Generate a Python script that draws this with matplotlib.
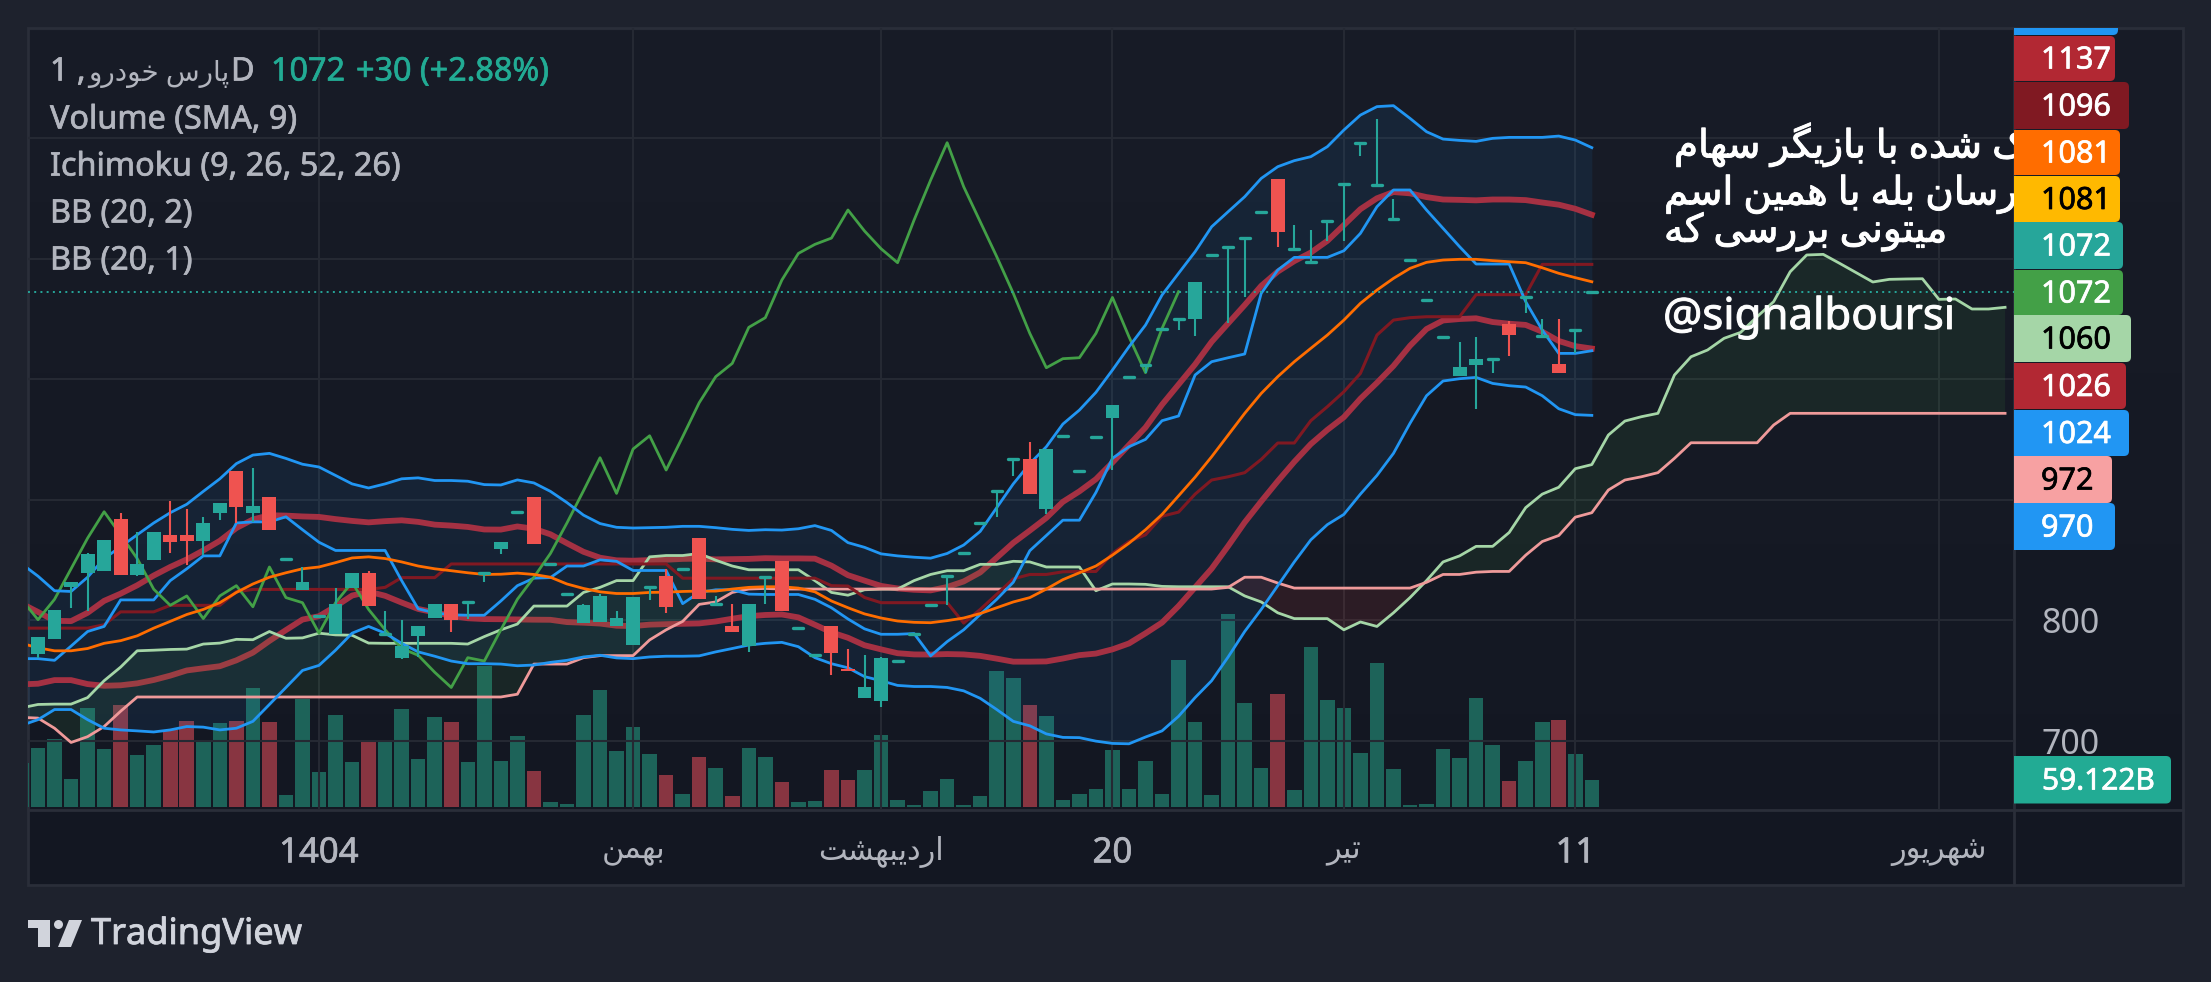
#!/usr/bin/env python3
"""TradingView style daily chart with Ichimoku and two Bollinger bands."""
import matplotlib
matplotlib.use('Agg')
import matplotlib.pyplot as plt
import matplotlib.patheffects as pe
import numpy as np
from matplotlib.patches import FancyBboxPatch, Polygon, Circle, Rectangle

# candles, bar 0 to 94
opens = [772, 785, 828, 839, 841, 884, 838, 850, 871, 871, 866, 889, 924, 889, 902, 851, 825, 804, 789, 827,
         839, 789, 769, 787, 802, 814, 815, 839, 859, 890, 902, 847, 822, 798, 799, 795, 780, 828, 837, 843,
         868, 814, 795, 779, 836, 849, 794, 771, 795, 760, 736, 733, 766, 789, 813, 837, 856, 881, 907, 934,
         934, 892, 953, 924, 952, 968, 1002, 1012, 1042, 1050, 1050, 1103, 1110, 1117, 1139, 1166, 1108, 1097, 1131, 1162,
         1196, 1161, 1133, 1099, 1066, 1035, 1003, 1012, 1017, 1046, 1068, 1036, 1013, 1041, 1072]
highs = [786, 809, 832, 856, 867, 889, 873, 873, 899, 892, 886, 897, 924, 926, 902, 851, 844, 804, 827, 839,
         841, 808, 800, 795, 814, 814, 815, 839, 865, 890, 902, 847, 822, 814, 822, 808, 819, 828, 843, 843,
         868, 820, 814, 814, 836, 849, 794, 771, 795, 776, 771, 770, 766, 789, 813, 837, 856, 881, 907, 934,
         948, 942, 953, 924, 952, 979, 1002, 1012, 1042, 1050, 1081, 1103, 1110, 1117, 1139, 1166, 1128, 1124, 1131, 1162,
         1196, 1216, 1149, 1099, 1066, 1035, 1031, 1035, 1017, 1048, 1068, 1050, 1050, 1041, 1072]
lows = [769, 785, 810, 808, 841, 838, 837, 850, 856, 846, 854, 883, 881, 882, 875, 851, 825, 804, 789, 827,
        812, 789, 768, 770, 802, 790, 801, 832, 855, 890, 863, 847, 822, 798, 799, 795, 780, 817, 806, 843,
        818, 814, 790, 774, 814, 808, 794, 771, 755, 758, 736, 728, 766, 789, 813, 813, 856, 881, 886, 920,
        905, 888, 953, 924, 952, 925, 1002, 1005, 1042, 1041, 1036, 1103, 1047, 1068, 1139, 1110, 1108, 1097, 1115, 1115,
        1185, 1161, 1133, 1099, 1066, 1035, 1003, 975, 1005, 1019, 1055, 1036, 1005, 1022, 1072]
closes = [786, 809, 832, 855, 867, 838, 847, 873, 865, 866, 881, 897, 894, 895, 875, 851, 832, 804, 814, 839,
          812, 789, 779, 795, 814, 800, 815, 839, 865, 890, 863, 847, 822, 813, 820, 802, 819, 828, 811, 843,
          818, 814, 790, 814, 836, 808, 794, 771, 773, 758, 745, 769, 766, 789, 813, 837, 856, 881, 907, 934,
          905, 942, 953, 924, 952, 979, 1002, 1012, 1042, 1050, 1081, 1103, 1110, 1117, 1139, 1122, 1108, 1097, 1131, 1162,
          1196, 1161, 1133, 1099, 1066, 1035, 1010, 1017, 1017, 1037, 1068, 1036, 1005, 1041, 1072]

# volume in billions, bar -1 to 94
volumes = [97, 130, 150, 61, 219, 128, 225, 115, 137, 169, 189, 143, 185, 189, 263, 187, 26, 238, 77, 203,
           99, 147, 147, 216, 106, 198, 187, 99, 312, 101, 156, 79, 11, 7, 203, 258, 124, 177, 117, 70,
           28, 110, 86, 24, 130, 110, 55, 11, 13, 82, 59, 82, 159, 15, 4, 35, 61, 4, 24, 300,
           284, 225, 201, 15, 28, 40, 126, 40, 101, 28, 324, 187, 26, 426, 229, 86, 249, 37, 353, 236,
           219, 119, 317, 84, 4, 7, 128, 108, 240, 137, 57, 101, 187, 192, 117, 59.122]

# Bollinger 20,2 bar -1 to 94
bb2_upper = [847, 836.7, 824.6, 824, 835.8, 851.3, 861.1, 871, 880.8, 889.3, 896.3, 907, 917.4, 930, 937.1, 938.5,
             934.3, 929.5, 927.2, 920.2, 913.2, 909.8, 913.2, 917.4, 918.2, 916, 916, 915.4, 912.6, 912.3, 916.5, 914,
             907, 897.7, 887.3, 880.3, 877.2, 876.6, 876.9, 877.2, 878, 878, 876.9, 875.5, 874.6, 875.2, 874.9, 876,
             878.6, 874.6, 864.5, 860.6, 855.2, 853.5, 852.4, 851.6, 855.5, 862.5, 873.8, 893.5, 913.2, 930, 944, 962.8,
             974.4, 989.1, 1007.6, 1026.9, 1044.9, 1069.8, 1087.8, 1105.7, 1126.4, 1138.9, 1151.3, 1166.5, 1176.2, 1181.2, 1184.5, 1192.8,
             1206.6, 1219, 1226, 1226.8, 1216.3, 1205.2, 1199.1, 1198, 1197.2, 1199.7, 1200.5, 1200.5, 1200.5, 1201.6, 1198.3, 1192]
bb2_basis = [781, 777.3, 774.8, 774.8, 776.7, 781, 783.2, 787.2, 793.6, 799.2, 804.9, 809.1, 814.7, 823.2, 830.2, 835.8,
             839.5, 842.8, 844.3, 847.9, 851.8, 852.7, 851.3, 848.5, 845.1, 842.8, 841.2, 839.5, 838.1, 838.3, 839.2, 838.1,
             835.8, 830.2, 826.5, 823.7, 822.3, 822.3, 823.2, 823.4, 824, 824.3, 824.3, 826, 827.4, 827.9, 827.9, 826.8,
             823.7, 816.1, 810.5, 805.4, 802, 799.5, 798.4, 798.1, 799.8, 802, 805.7, 810.5, 815.3, 818.9, 826, 833.8,
             839.5, 845.1, 854.1, 864, 875.2, 887.9, 903.3, 918.8, 935.7, 953.7, 971.7, 988.2, 1002.1, 1014.5, 1025.6, 1036.6,
             1049, 1062.9, 1073.9, 1083.6, 1091.9, 1096.9, 1098.8, 1099.4, 1099.4, 1098.3, 1097.4, 1096.6, 1092.4, 1087.8, 1084.2, 1080.8]
bb2_lower = [713, 717.7, 726.1, 726.1, 717.7, 710.6, 709.2, 708.4, 707.5, 709.2, 712, 711.5, 709.2, 710.6, 716.3, 730.3,
             744.4, 758.5, 762.7, 775.3, 789.4, 795, 789.4, 781, 773.9, 770.3, 766.3, 764.1, 764.1, 763.8, 762.4, 763,
             765.2, 766.9, 769.7, 771.1, 768.9, 768.3, 769.7, 770.3, 770.3, 770.6, 773.9, 776.7, 779.6, 781, 781.8, 778.2,
             769.1, 764.1, 760.7, 753.4, 750, 746.1, 745.2, 745.2, 744.4, 741.6, 735.4, 726.1, 716.3, 712.6, 705.9, 703,
             702.8, 699.9, 698, 697.7, 703.3, 708.4, 720.5, 736, 750, 769.7, 790.8, 809.1, 828.8, 848.5, 866.8, 879.4,
             887.9, 904.7, 920.2, 938.5, 963.4, 986.3, 998.5, 1000.4, 1001.5, 996.5, 994.6, 993.5, 986.3, 975.5, 970.6, 970]

# Bollinger 20,1 bar -1 to 94
bb1_upper = [814, 807, 799.7, 799.4, 806.3, 816.2, 822.2, 829.1, 837.2, 844.3, 850.6, 858, 866, 876.6, 883.7, 887.2,
             886.9, 886.2, 885.8, 884, 882.5, 881.3, 882.3, 883, 881.7, 879.4, 878.6, 877.5, 875.4, 875.3, 877.9, 876,
             871.4, 864, 856.9, 852, 849.8, 849.5, 850, 850.3, 851, 851.2, 850.6, 850.8, 851, 851.6, 851.4, 851.4,
             851.2, 845.4, 837.5, 833, 828.6, 826.5, 825.4, 824.9, 827.7, 832.3, 839.8, 852, 864.3, 874.5, 885, 898.3,
             907, 917.1, 930.9, 945.5, 960, 978.9, 995.6, 1012.3, 1031, 1046.3, 1061.5, 1077.4, 1089.2, 1097.9, 1105, 1114.7,
             1127.8, 1141, 1150, 1155.2, 1154.1, 1151, 1149, 1148.7, 1148.3, 1149, 1149, 1148.5, 1146.5, 1144.7, 1141.3, 1136.4]
bb1_lower = [747, 747.5, 750.5, 750.5, 747.2, 745.8, 746.2, 747.8, 750.6, 754.2, 758.5, 760.3, 762, 766.9, 773.3, 783,
             792, 800.7, 803.5, 811.6, 820.6, 823.9, 820.4, 814.8, 809.5, 806.6, 803.8, 801.8, 801.1, 801, 800.8, 800.6,
             800.5, 798.6, 798.1, 797.4, 795.6, 795.3, 796.5, 796.9, 797.2, 797.5, 799.1, 801.4, 803.5, 804.5, 804.9, 802.5,
             796.4, 790.1, 785.6, 779.4, 776, 772.8, 771.8, 771.7, 772.1, 771.8, 770.6, 768.3, 765.8, 765.8, 766, 768.4,
             771.2, 772.5, 776, 780.9, 789.3, 798.2, 811.9, 827.4, 842.9, 861.7, 881.3, 898.7, 915.5, 931.5, 946.2, 958,
             968.5, 983.8, 997, 1011, 1027.7, 1041.6, 1048.7, 1049.9, 1050.5, 1047.4, 1046, 1045, 1039.4, 1031.7, 1027.4, 1025.4]

# Ichimoku bar -1 to 94
tenkan = [768.3, 768.3, 766.9, 778.7, 790.8, 795, 817, 817, 817, 833, 842.8, 853.5, 853.5, 880.8, 881.7, 881.7,
          885.9, 875.2, 864.8, 858, 858, 858, 858, 833, 809.6, 806.3, 804.6, 804.3, 804.3, 816.1, 828.8, 835,
          835.5, 845.1, 845.1, 850.2, 849, 841.4, 841.4, 841.4, 813.9, 823.2, 825.4, 825.4, 821.8, 821.5, 821.5, 821.5,
          817.5, 810.5, 801.2, 793, 788.5, 788.5, 789.1, 770.6, 782.4, 792.2, 804.9, 817.5, 831.6, 857.8, 870.4, 883.1,
          883.1, 906.1, 934.4, 944, 950.1, 965.6, 969.5, 1003.5, 1014.5, 1017.8, 1020.9, 1071.2, 1090.5, 1101, 1101, 1101,
          1106.5, 1120.9, 1143, 1156.9, 1156.9, 1140.3, 1125.1, 1109.9, 1095.5, 1095.5, 1095.5, 1064.3, 1040.8, 1021.4, 1021.4, 1023.6]
kijun = [793.6, 793.6, 793.6, 793.6, 793.6, 796.4, 807.1, 807.1, 807.1, 812.5, 812.5, 812.5, 812.5, 823.7, 825.7, 825.7,
         825.7, 825.7, 825.7, 825.7, 825.7, 825.7, 827.4, 835.5, 835.5, 835.5, 846.8, 846.8, 846.8, 846.8, 846.8, 846.8,
         846.8, 846.8, 846.8, 846.8, 846.8, 846.8, 846.8, 846.8, 835, 835, 835, 835, 835, 835, 835, 835,
         835, 828.8, 828.5, 819, 814.7, 814.7, 814.7, 814.7, 814.7, 797.8, 809.1, 821.7, 834.4, 838.1, 838.1, 840.3,
         840.6, 840.6, 855.5, 865.4, 871, 886.4, 889.8, 904.7, 916.4, 919.1, 922.5, 933.5, 947.1, 947.1, 965.6, 977.2,
         989.6, 1004.8, 1036.6, 1049, 1051, 1051.8, 1051.8, 1051.8, 1070.1, 1070.1, 1070.1, 1070.1, 1095.2, 1095.2, 1095.2, 1095.2]
# lagging span bar -1 to 69
lagging = [817.5, 800.6, 817.5, 842.8, 868.2, 890.1, 871, 851.3, 825.9, 812.5, 820.3, 801.5, 820.3, 828.8, 811.3, 844.3,
           818.9, 814.7, 789.4, 814.7, 831.6, 809.1, 792.2, 776.7, 771.1, 757, 744.4, 769.1, 766.3, 792.2, 817.5, 835.8,
           855.5, 880.8, 907.5, 934.9, 905.3, 942.1, 953.1, 924.7, 952.3, 980.5, 1002.1, 1013.1, 1043, 1051, 1082.2, 1104.3,
           1111.8, 1117, 1140.3, 1122.9, 1108.2, 1096.6, 1132, 1165.1, 1196.1, 1159.6, 1130.6, 1101.6, 1071.2, 1038, 1009.5, 1017,
           1017.8, 1038, 1067.8, 1035.2, 1005.4, 1042.1, 1072.6]
# leading spans bar -1 to 119
span_a = [727.5, 730.3, 730.6, 730.6, 736, 750, 761.3, 774.8, 775.3, 775.9, 776.2, 780.4, 781.2, 784.3, 784, 790.8,
          785.2, 785.5, 789.4, 788, 787.7, 781.2, 781, 781, 781, 781, 781, 780.4, 786.6, 792.2, 797, 811.9,
          811.9, 811.9, 823.2, 827.4, 833, 833, 852.7, 853.8, 853.8, 855.5, 849.9, 845.1, 842, 842, 842, 842,
          833, 823.2, 820.9, 825.4, 826, 826, 833, 838.1, 841.2, 841.2, 846.5, 846.5, 849, 848.5, 844.3, 844.3,
          844.3, 824.6, 830.2, 830.2, 829.9, 828.2, 827.9, 827.9, 827.9, 827.9, 820.3, 815.3, 806.3, 801.5, 801.5, 801.5,
          792.2, 798.7, 795, 806.3, 818.9, 833, 848.5, 853.5, 861.4, 861.4, 872.9, 893.5, 904.7, 910.4, 925.8, 929.2,
          953.7, 965.3, 968.9, 971.7, 1003.5, 1018.6, 1024.2, 1033.9, 1038.8, 1051.8, 1064.3, 1089.1, 1103, 1103.5, 1096, 1088.3,
          1080.6, 1082.8, 1083.1, 1083.3, 1066.2, 1066.5, 1058.2, 1058.2, 1059.6]
span_b = [719.6, 719, 710.6, 698.8, 703.6, 712, 724.7, 736.5, 736.5, 736.5, 736.5, 736.5, 736.5, 736.5, 736.5, 736.5,
          736.5, 736.5, 736.5, 736.5, 736.5, 736.5, 736.5, 736.5, 736.5, 736.5, 736.5, 736.5, 736.5, 736.5, 738.8, 763.8,
          763.8, 763.8, 769.1, 770.8, 770.8, 770.8, 783.8, 792.2, 799.2, 813.3, 815.3, 823.2, 826, 826.5, 826,
          826, 826, 826, 826, 826, 826, 826, 826, 826, 826, 826, 826, 826, 826, 826, 826, 826,
          826, 826, 826, 826, 826, 826, 826, 826, 826, 827.4, 835.8, 835.8, 831, 826.8, 826.8, 826.8,
          826.8, 826.8, 826.8, 826.8, 826.8, 831.6, 838.1, 838.1, 840, 840.6, 840.6, 854.1, 865.4, 870.4, 885.6, 889.3,
          908.1, 916.4, 919.1, 922.5, 934.4, 947.3, 947.3, 947.3, 947.3, 947.3, 962, 971.7, 971.7, 971.7, 971.7, 971.7,
          971.7, 971.7, 971.7, 971.7, 971.7, 971.7, 971.7, 971.7, 971.7]

last_price = 1072
price_ticks = [700, 800, 900, 1000, 1100, 1200]
price_tick_labels = ['700', '800', '', '', '', '']
time_ticks = [17, 36, 51, 65, 79, 93, 115]
time_tick_labels = ['1404', 'بهمن', 'اردیبهشت', '20', 'تیر', '11', 'شهریور']
legend_names = ['Volume (SMA, 9)', 'Ichimoku (9, 26, 52, 26)', 'BB (20, 2)', 'BB (20, 1)']
symbol_name = 'پارس خودرو'
note_lines = ['ـک شده با بازیگر سهام', 'ـرسان بله با همین اسم', 'میتونی بررسی که']
note_handle = '@signalboursi'
scale_labels = ['1137', '1096', '1081', '1081', '1072', '1072', '1060', '1026', '1024', '972', '970']

W, H = 2211, 982
UP, DOWN = '#26A69A', '#EF5350'
GRID = '#252933'
BORDER = '#2A2E39'
TXT = '#B2B5BE'
FONTS = ['Noto Sans', 'DejaVu Sans']

# contextual forms: isolated, final, initial, medial
FORMS = {
    'ا': 'ﺍﺎ', 'د': 'ﺩﺪ', 'ر': 'ﺭﺮ', 'ز': 'ﺯﺰ', 'و': 'ﻭﻮ',
    'ب': 'ﺏﺐﺑﺒ', 'پ': 'ﭖﭗﭘﭙ', 'ت': 'ﺕﺖﺗﺘ', 'خ': 'ﺥﺦﺧﺨ',
    'س': 'ﺱﺲﺳﺴ', 'ش': 'ﺵﺶﺷﺸ', 'ل': 'ﻝﻞﻟﻠ', 'م': 'ﻡﻢﻣﻤ',
    'ن': 'ﻥﻦﻧﻨ', 'ه': 'ﻩﻪﻫﻬ', 'ی': 'ﯼﯽﯾﯿ', 'ک': 'ﮎﮏﮐﮑ',
    'گ': 'ﮒﮓﮔﮕ', 'ـ': 'ــــ',
}


def shape_fa(text):
    """Join Persian letters and put them in drawing order, matplotlib does neither."""
    if not any(ch in FORMS for ch in text):
        return text
    out = []
    for n, ch in enumerate(text):
        forms = FORMS.get(ch)
        if forms is None:
            out.append(ch)
            continue
        prev = text[n - 1] if n else ''
        nxt = text[n + 1] if n + 1 < len(text) else ''
        joins_prev = prev in FORMS and len(FORMS[prev]) == 4
        joins_next = nxt in FORMS and len(forms) == 4
        if joins_prev and joins_next:
            out.append(forms[3])
        elif joins_next:
            out.append(forms[2])
        elif joins_prev:
            out.append(forms[1])
        else:
            out.append(forms[0])
    return ''.join(reversed(out))


def heavy(color, width=0.6):
    return [pe.withStroke(linewidth=width, foreground=color)]


def main():
    fig = plt.figure(figsize=(W / 100, H / 100), dpi=100, facecolor='#1E222D')

    # background panel with its vertical gradient
    bg = fig.add_axes([0, 0, 1, 1], zorder=-1)
    bg.set_xlim(0, W)
    bg.set_ylim(H, 0)
    bg.axis('off')
    grad = np.linspace(0, 1, 256).reshape(-1, 1)
    top, bot = np.array([0x18, 0x1C, 0x27]), np.array([0x13, 0x17, 0x22])
    img = (top + (bot - top) * grad[..., None]) / 255
    bg.imshow(img, extent=(28, 2183, 885, 28), aspect='auto', zorder=0)
    bg.set_xlim(0, W)
    bg.set_ylim(H, 0)
    bg.add_patch(Rectangle((28, 28), 2155, 857, fill=False, ec=BORDER, lw=2))
    bg.plot([28, 2183], [810, 810], color=BORDER, lw=2)
    bg.plot([2014, 2014], [28, 885], color=BORDER, lw=2)

    # main pane, x is the bar number and y the price
    pane = [28 / W, 1 - 810 / H, (2014 - 28) / W, (810 - 28) / H]
    ax_vol = fig.add_axes(pane, zorder=1)
    ax = fig.add_axes(pane, zorder=2)
    xlim = ((28 - 38) / 16.53, (2014 - 38) / 16.53)
    ax.set_xlim(xlim)
    ax.set_ylim(642.8, 1291.2)
    ax.patch.set_visible(False)
    ax_vol.patch.set_visible(False)
    ax_vol.set_xlim(xlim)
    ax_vol.set_ylim(-6.6, 1718.5)
    ax_vol.axis('off')
    for s in ax.spines.values():
        s.set_visible(False)

    ax.set_yticks(price_ticks, price_tick_labels)
    ax.yaxis.tick_right()
    ax.tick_params(axis='y', length=0, pad=19.5, labelsize=24.5, labelcolor=TXT)
    ax.set_xticks(time_ticks, [shape_fa(t) for t in time_tick_labels])
    ax.tick_params(axis='x', length=0, pad=19, labelsize=25, labelcolor=TXT)
    for lab in ax.get_yticklabels():
        lab.set_family(FONTS)
    for lab, raw in zip(ax.get_xticklabels(), time_tick_labels):
        lab.set_family(FONTS)
        if raw.isdigit():
            lab.set_path_effects(heavy(TXT, 0.5))
        else:
            lab.set_fontsize(22)
    ax.grid(True, color=GRID, lw=1.5)
    ax.set_axisbelow(True)

    # volume
    vx = np.arange(-1, 95)
    o = np.array(opens, float)
    c = np.array(closes, float)
    vol_cols = ['#1D6359'] + ['#883541' if b < a else '#1D6359' for a, b in zip(opens, closes)]
    ax_vol.bar(vx, volumes, width=0.88, color=vol_cols)

    # inner band lines sit under the band and cloud shading
    ax.plot(vx, bb1_upper, color='#B22833', lw=4.2, zorder=1.5)
    ax.plot(vx, bb1_lower, color='#B22833', lw=4.2, zorder=1.5)

    ax.fill_between(vx, bb2_upper, bb2_lower, color='#2196F3', alpha=0.085, lw=0, zorder=2)
    cx = np.arange(-1, 120)
    a = np.array(span_a)
    b = np.array(span_b)
    ax.fill_between(cx, a, b, where=a >= b, interpolate=True, color='#43A047', alpha=0.11, lw=0, zorder=2)
    ax.fill_between(cx, a, b, where=a < b, interpolate=True, color='#F44336', alpha=0.11, lw=0, zorder=2)

    ax.plot(cx, span_a, color='#A5D6A7', lw=2, zorder=3)
    ax.plot(cx, span_b, color='#EF9A9A', lw=2, zorder=3)
    ax.plot(vx, kijun, color='#801922', lw=2.2, zorder=3)
    ax.plot(vx, tenkan, color='#2196F3', lw=2, zorder=3)
    ax.plot(np.arange(-1, 70), lagging, color='#43A047', lw=2, zorder=3)
    ax.plot(vx, bb2_basis, color='#FF6D00', lw=2, zorder=3)
    ax.plot(vx, bb2_upper, color='#2196F3', lw=2, zorder=3)
    ax.plot(vx, bb2_lower, color='#2196F3', lw=2, zorder=3)

    ax.axhline(last_price, color=UP, ls=(0, (1, 2.2)), lw=1.4, zorder=3)

    # candles
    bars = np.arange(95)
    cols = np.where(c < o, DOWN, UP)
    ax.vlines(bars, lows, highs, colors=cols, lw=1.5, zorder=5)
    solid = np.abs(c - o) >= 1
    ax.bar(bars[solid], (c - o)[solid], bottom=o[solid], width=0.84, color=cols[solid], zorder=5)
    ax.hlines(o[~solid], bars[~solid] - 0.3, bars[~solid] + 0.3, colors=cols[~solid], lw=2.4,
              capstyle='round', zorder=5)

    # writing on the pane, cut off by the price column
    px = lambda x, y: (x / W, 1 - y / H)
    note_left = [1674, 1664, 1664]
    note_y = [145, 194, 232]
    for t, x0, y0 in zip(note_lines, note_left, note_y):
        ax.text(*px(x0, y0), shape_fa(t), transform=fig.transFigure, color='white', fontsize=28,
                family=FONTS, va='center', ha='left', clip_on=True, zorder=6,
                path_effects=heavy('white', 0.7))
    ax.text(*px(1663, 318), note_handle, transform=fig.transFigure, color='white', alpha=0.92,
            fontsize=31.5, family=FONTS, va='center', ha='left', zorder=6, path_effects=heavy('white', 0.7))

    # overlay with legend, price labels and logo
    ov = fig.add_axes([0, 0, 1, 1], zorder=10)
    ov.set_xlim(0, W)
    ov.set_ylim(H, 0)
    ov.axis('off')
    ov.patch.set_visible(False)

    leg = dict(fontsize=23.3, family=FONTS, va='center', path_effects=heavy(TXT, 0.5))
    ov.text(50, 72, '1 ,', color=TXT, **leg)
    ov.text(229, 74, shape_fa(symbol_name), color=TXT, fontsize=20, family=FONTS, va='center', ha='right')
    ov.text(231, 72, 'D', color=TXT, **leg)
    teal = dict(leg, path_effects=heavy('#22AB94', 0.5))
    ov.text(271, 72, '1072', color='#22AB94', **teal)
    ov.text(356, 72, '+30 (+2.88%)', color='#22AB94', **teal)
    for t, y0 in zip(legend_names, [120, 167, 214, 261]):
        ov.text(50, y0, t, color=TXT, **leg)

    tops = [36, 82, 130, 176, 222, 270, 315, 363, 410, 456, 503]
    bots = [81, 129, 175, 222, 269, 315, 362, 409, 456, 503, 550]
    rights = [2115, 2129, 2120, 2120, 2123, 2123, 2131, 2126, 2129, 2112, 2115]
    fills = ['#B22833', '#801922', '#FF6D00', '#FFB900', '#26A69A', '#43A047', '#A5D6A7', '#B22833',
             '#2196F3', '#F7A1A2', '#2196F3']
    inks = ['white', 'white', 'white', 'black', 'white', 'white', 'black', 'white', 'white', 'black', 'white']
    clip = Rectangle((2014, 28), 200, 800, transform=ov.transData)

    def tag(y0, y1, right, fill):
        box = FancyBboxPatch((2000, y0), right - 2000, y1 - y0, boxstyle='round,pad=0,rounding_size=5',
                             fc=fill, ec='none', mutation_aspect=1)
        ov.add_patch(box)
        box.set_clip_path(clip)

    tag(-10, 35, 2118, '#2196F3')
    for lab, y0, y1, r, f, k in zip(scale_labels, tops, bots, rights, fills, inks):
        tag(y0, y1, r, f)
        ov.text(2041, (y0 + y1) / 2 + 2, lab, color=k, fontsize=22, family=FONTS, va='center',
                path_effects=heavy(k, 0.5))
    tag(756, 803.5, 2171, '#22AB94')
    ov.text(2042, 782, '59.122B', color='white', fontsize=21.5, family=FONTS, va='center',
            path_effects=heavy('white', 0.5))

    # logo
    logo = '#D1D4DC'
    ov.add_patch(Polygon([(28, 920), (50, 920), (50, 947), (38, 947), (38, 928), (28, 928)], fc=logo, ec='none'))
    ov.add_patch(Circle((58.5, 924.5), 4.5, fc=logo, ec='none'))
    ov.add_patch(Polygon([(69, 920), (82, 920), (71, 947), (58, 947)], fc=logo, ec='none'))
    ov.text(91, 935, 'TradingView', color=logo, fontsize=26, family=FONTS, va='center',
            path_effects=heavy(logo, 0.6))

    fig.savefig('out.png', dpi=100, facecolor=fig.get_facecolor())


if __name__ == '__main__':
    main()
